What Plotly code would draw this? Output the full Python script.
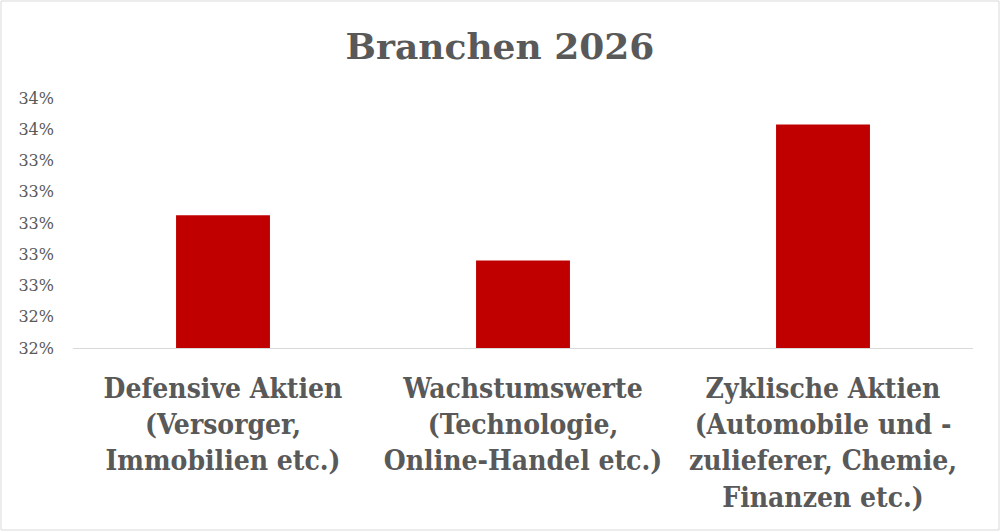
import plotly.graph_objects as go

categories = [
    "Defensive Aktien<br>(Versorger,<br>Immobilien etc.)",
    "Wachstumswerte<br>(Technologie,<br>Online-Handel etc.)",
    "Zyklische Aktien<br>(Automobile und -<br>zulieferer, Chemie,<br>Finanzen etc.)",
]
values = [0.3305, 0.3276, 0.3363]

tick_vals = [0.322, 0.324, 0.326, 0.328, 0.330, 0.332, 0.334, 0.336, 0.338]
tick_text = ["32%", "32%", "33%", "33%", "33%", "33%", "33%", "34%", "34%"]

grey = "#595959"

fig = go.Figure(
    go.Bar(
        x=categories,
        y=values,
        marker=dict(color="#c00000", line=dict(width=0)),
        width=0.313,
    )
)

fig.update_layout(
    width=1000,
    height=531,
    margin=dict(l=73, r=27, t=98, b=183, autoexpand=False),
    paper_bgcolor="white",
    plot_bgcolor="white",
    showlegend=False,
    title=dict(
        text="<b>Branchen 2026</b>",
        x=0.5,
        xanchor="center",
        y=0.912,
        yanchor="middle",
        font=dict(family="DejaVu Serif", size=36, color=grey),
    ),
    font=dict(family="DejaVu Serif", color=grey),
)

fig.update_xaxes(
    automargin=False,
    showline=True,
    linecolor="#d9d9d9",
    linewidth=1,
    ticks="",
    tickfont=dict(family="DejaVu Serif Condensed", size=28, color=grey, weight="bold"),
    ticklabelstandoff=15,
)
fig.update_yaxes(
    automargin=False,
    range=[0.322, 0.338],
    tickvals=tick_vals,
    ticktext=tick_text,
    showgrid=False,
    zeroline=False,
    showline=False,
    tickfont=dict(family="DejaVu Serif", size=16, color=grey),
    ticklabelstandoff=18,
)

# thin frame around the whole chart
fig.add_shape(
    type="rect",
    xref="paper", yref="paper",
    x0=-72 / 900, x1=926 / 900,
    y0=-182 / 250, y1=347 / 250,
    line=dict(color="#d9d9d9", width=1),
    fillcolor="rgba(0,0,0,0)",
)

# drop the default page margin so the figure sits at the window corner
fig.write_html(
    "out.html",
    config={"displayModeBar": False},
    post_script="document.body.style.margin='0';",
)
